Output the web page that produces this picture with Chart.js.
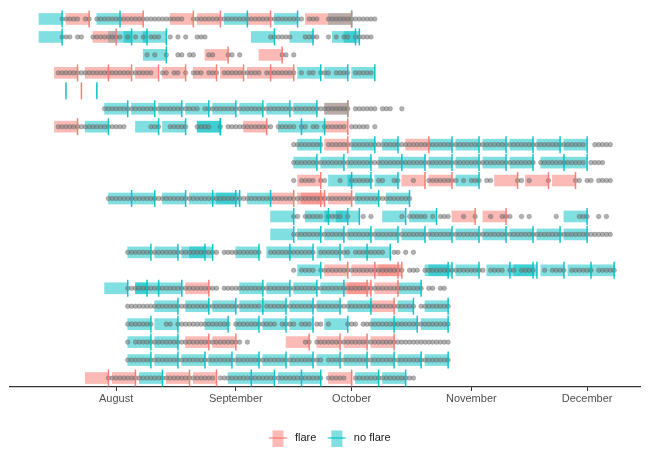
<!DOCTYPE html>
<html><head><meta charset="utf-8">
<script src="https://cdn.jsdelivr.net/npm/chart.js@4.4.1/dist/chart.umd.min.js"></script>
<style>html,body{margin:0;padding:0;background:#fff;}</style>
</head><body>
<canvas id="c" width="650" height="463"></canvas>
<script>
// Rows (one per participant, top to bottom)
const rowIds = ['R1','R2','R3','R4','R5','R6','R7','R8','R9','R10','R11','R12','R13','R14','R15','R16','R17','R18','R19','R20','R21'];
const seriesNames = ['flare', 'no flare'];
// Day numbers counted from July 1 (= 0)
const monthTicks = [31, 62, 92, 123, 153];
const monthLabels = ['August', 'September', 'October', 'November', 'December'];
const dayRange = [3.5, 166.7];

// Report periods [row, first day, last day]; the report date is the last day
const flareSpans = [
  ['R1',18,24],['R1',32,38],['R1',45,51],['R1',52,58],['R1',65,71],['R1',80,92],
  ['R2',25,31],
  ['R3',54,60],['R3',68,74],
  ['R4',15,21],['R4',23,29],['R4',29,35],['R4',36,42],['R4',43,49],['R4',51,57],['R4',58,64],['R4',65,71],['R4',71,77],
  ['R5',22,22],
  ['R6',85,91],
  ['R7',15,21],['R7',64,70],['R7',85,91],
  ['R8',85,91],['R8',106,112],
  ['R10',78,84],['R10',105,111],['R10',112,118],['R10',129,135],['R10',137,143],['R10',144,150],
  ['R11',71,77],['R11',78,84],['R11',79,85],['R11',86,92],
  ['R12',118,124],['R12',126,132],
  ['R15',85,91],['R15',92,98],['R15',98,104],['R15',99,105],
  ['R16',49,55],['R16',90,96],['R16',91,97],['R16',98,104],
  ['R17',97,103],
  ['R19',49,55],['R19',56,62],['R19',75,81],['R19',83,89],['R19',90,96],['R19',97,103],
  ['R21',23,29],['R21',30,36],['R21',44,50],['R21',51,57],['R21',86,92]
];
const noFlareSpans = [
  ['R1',11,17],['R1',26,32],['R1',59,65],['R1',72,78],['R1',86,92],
  ['R2',11,17],['R2',29,35],['R2',33,39],['R2',38,44],['R2',66,72],['R2',76,82],['R2',87,93],['R2',90,94],
  ['R3',38,44],
  ['R4',78,84],['R4',85,91],['R4',92,98],
  ['R5',18,18],['R5',26,26],
  ['R6',28,34],['R6',35,41],['R6',42,48],['R6',49,55],['R6',56,62],['R6',63,69],['R6',70,76],['R6',77,83],['R6',85,91],
  ['R7',23,29],['R7',36,42],['R7',43,49],['R7',52,58],['R7',52,58],['R7',73,79],['R7',79,85],
  ['R8',78,84],['R8',92,98],['R8',100,104],['R8',112,118],['R8',119,125],['R8',126,132],['R8',133,139],['R8',140,146],['R8',147,153],
  ['R9',77,83],['R9',84,90],['R9',91,97],['R9',99,105],['R9',105,111],['R9',112,118],['R9',119,125],['R9',126,132],['R9',133,139],['R9',141,147],['R9',147,153],
  ['R10',86,92],['R10',91,97],['R10',98,104],['R10',119,125],
  ['R11',29,35],['R11',35,41],['R11',43,49],['R11',50,56],['R11',56,62],['R11',57,63],['R11',65,71],['R11',93,99],['R11',101,107],
  ['R12',71,77],['R12',80,86],['R12',85,91],['R12',88,94],['R12',100,106],['R12',107,114],['R12',147,153],
  ['R13',71,77],['R13',78,84],['R13',85,90],['R13',91,97],['R13',98,104],['R13',105,111],['R13',112,118],['R13',119,125],['R13',126,132],['R13',133,139],['R13',140,146],['R13',147,153],
  ['R14',34,40],['R14',41,47],['R14',48,54],['R14',50,56],['R14',62,68],['R14',70,76],['R14',76,82],['R14',83,89],['R14',90,96],['R14',96,102],
  ['R15',78,84],['R15',111,117],['R15',112,118],['R15',119,125],['R15',127,133],['R15',133,139],['R15',134,140],['R15',141,147],['R15',148,154],['R15',154,160],
  ['R16',28,34],['R16',36,39],['R16',36,42],['R16',42,48],['R16',63,69],['R16',70,76],['R16',77,83],['R16',84,90],['R16',104,110],
  ['R17',41,47],['R17',49,55],['R17',56,62],['R17',63,69],['R17',69,75],['R17',76,82],['R17',83,89],['R17',91,97],['R17',104,108],['R17',111,117],
  ['R18',34,40],['R18',41,47],['R18',54,60],['R18',62,68],['R18',69,75],['R18',76,82],['R18',85,91],['R18',97,103],['R18',103,109],['R18',110,117],
  ['R19',34,40],['R19',41,47],
  ['R20',34,40],['R20',41,47],['R20',48,54],['R20',55,61],['R20',62,68],['R20',69,75],['R20',76,82],['R20',83,89],['R20',90,96],['R20',97,103],['R20',104,110],['R20',111,117],
  ['R21',37,43],['R21',60,66],['R21',66,72],['R21',73,79],['R21',79,84],['R21',93,99],['R21',100,106]
];
// Runs of consecutive days with a daily observation [row, first day, last day]
const observedRuns = [
  ['R1',17,21],['R1',23,24],['R1',26,48],['R1',51,79],['R1',81,83],['R1',86,98],
  ['R2',17,19],['R2',21,22],['R2',25,32],['R2',34,34],['R2',36,36],['R2',38,38],['R2',40,42],['R2',45,45],['R2',47,47],['R2',49,49],['R2',52,54],['R2',71,76],['R2',80,83],['R2',86,86],['R2',88,88],['R2',90,91],['R2',93,97],
  ['R3',39,39],['R3',41,41],['R3',44,44],['R3',47,48],['R3',50,51],['R3',55,56],['R3',60,61],['R3',63,63],['R3',74,75],['R3',77,77],
  ['R4',16,40],['R4',43,44],['R4',46,47],['R4',49,49],['R4',51,53],['R4',55,57],['R4',59,68],['R4',70,77],['R4',79,79],['R4',81,82],['R4',84,86],['R4',88,91],['R4',93,97],
  ['R6',28,52],['R6',54,91],['R6',93,98],['R6',100,102],['R6',105,105],
  ['R7',16,33],['R7',40,42],['R7',45,49],['R7',52,55],['R7',58,58],['R7',60,71],['R7',73,77],['R7',79,80],['R7',82,83],['R7',85,90],['R7',92,96],['R7',98,98],
  ['R8',77,84],['R8',86,152],['R8',155,159],
  ['R9',77,139],['R9',141,152],['R9',154,157],
  ['R10',77,77],['R10',79,82],['R10',84,85],['R10',89,89],['R10',92,97],['R10',99,100],['R10',103,104],['R10',108,108],['R10',112,119],['R10',121,121],['R10',123,125],['R10',127,128],['R10',135,136],['R10',138,138],['R10',143,143],['R10',150,151],['R10',153,154],['R10',156,159],
  ['R11',29,107],
  ['R12',77,78],['R12',80,84],['R12',86,89],['R12',91,91],['R12',95,95],['R12',97,97],['R12',105,105],['R12',107,111],['R12',113,113],['R12',115,117],['R12',121,121],['R12',124,124],['R12',128,128],['R12',131,133],['R12',136,136],['R12',138,138],['R12',145,145],['R12',151,153],['R12',156,156],['R12',158,158],
  ['R13',77,159],
  ['R14',34,57],['R14',59,68],['R14',71,82],['R14',84,91],['R14',93,100],['R14',103,104],['R14',106,106],['R14',108,108],
  ['R15',77,77],['R15',79,82],['R15',84,105],['R15',107,109],['R15',111,126],['R15',128,131],['R15',133,134],['R15',136,139],['R15',142,142],['R15',144,147],['R15',149,154],['R15',156,160],
  ['R16',34,57],['R16',59,110],['R16',112,113],['R16',115,116],
  ['R17',34,68],['R17',70,108],['R17',110,117],
  ['R18',34,40],['R18',44,45],['R18',47,60],['R18',62,72],['R18',74,77],['R18',79,81],['R18',83,84],['R18',86,86],['R18',91,93],['R18',95,117],
  ['R19',34,34],['R19',36,63],['R19',65,65],['R19',80,81],['R19',83,117],
  ['R20',34,84],['R20',86,117],
  ['R21',29,56],['R21',58,84],['R21',86,90],['R21',93,108]
];

const FLARE = '248,118,109';
const NOFLARE = '0,191,196';
const rgba = (c, a) => 'rgba(' + c + ',' + a + ')';

const spanData = spans => spans.map(s => ({ y: s[0], x: [s[1], s[2]] }));
const reportData = spans => spans.map(s => ({ y: s[0], x: s[2] }));
const dotData = [];
observedRuns.forEach(r => { for (let d = r[1]; d <= r[2]; d++) dotData.push({ y: r[0], x: d }); });

function makeIcon(c) {
  const cv = document.createElement('canvas');
  cv.width = 32; cv.height = 20;
  const g = cv.getContext('2d');
  g.fillStyle = rgba(c, 0.5);
  g.fillRect(14, 1, 11, 18);
  g.strokeStyle = rgba(c, 0.85);
  g.lineWidth = 1.3;
  g.beginPath(); g.moveTo(10.5, 10); g.lineTo(28.5, 10); g.stroke();
  return cv;
}
const icons = [makeIcon(FLARE), makeIcon(NOFLARE)];

new Chart(document.getElementById('c'), {
  type: 'bar',
  data: {
    datasets: [
      { type: 'bar', label: seriesNames[0], indexAxis: 'y', data: spanData(flareSpans),
        backgroundColor: rgba(FLARE, 0.5), borderWidth: 0, barThickness: 11, grouped: false, order: 3 },
      { type: 'bar', label: seriesNames[1], indexAxis: 'y', data: spanData(noFlareSpans),
        backgroundColor: rgba(NOFLARE, 0.5), borderWidth: 0, barThickness: 11, grouped: false, order: 3 },
      { type: 'scatter', label: 'observed', data: dotData, pointRadius: 2.3,
        backgroundColor: 'rgba(115,115,115,0.55)', borderColor: 'rgba(85,85,85,0.55)', borderWidth: 0.5, order: 2 },
      { type: 'scatter', label: 'flare report', data: reportData(flareSpans), pointStyle: 'line', rotation: 90,
        pointRadius: 8.5, borderColor: rgba(FLARE, 0.9), borderWidth: 1.5, order: 1 },
      { type: 'scatter', label: 'no flare report', data: reportData(noFlareSpans), pointStyle: 'line', rotation: 90,
        pointRadius: 8.5, borderColor: rgba(NOFLARE, 0.9), borderWidth: 1.5, order: 1 }
    ]
  },
  options: {
    responsive: false,
    animation: false,
    layout: { padding: { left: 10, right: 10, top: 8, bottom: 9.5 } },
    scales: {
      x: {
        type: 'linear', min: dayRange[0], max: dayRange[1], offset: false,
        afterBuildTicks: s => { s.ticks = monthTicks.map(v => ({ value: v })); },
        afterFit: s => { s.height = 43.5; },
        ticks: {
          autoSkip: false, maxRotation: 0, padding: 1.5, color: '#4D4D4D',
          font: { family: 'Liberation Sans, Arial, sans-serif', size: 11 },
          callback: v => monthLabels[monthTicks.indexOf(v)]
        },
        grid: { offset: false, drawOnChartArea: false, drawTicks: true, tickLength: 4, color: '#333333', tickWidth: 1 },
        border: { display: true, color: '#333333', width: 1.2 }
      },
      y: {
        type: 'category', labels: rowIds, offset: true, display: false,
        grid: { display: false }
      }
    },
    plugins: {
      tooltip: { enabled: false },
      legend: {
        display: true, position: 'bottom',
        labels: {
          usePointStyle: true, pointStyleWidth: 30, padding: 2,
          color: '#1A1A1A',
          font: { family: 'Liberation Sans, Arial, sans-serif', size: 11 },
          generateLabels: () => seriesNames.map((n, i) => ({
            text: n, pointStyle: icons[i], fillStyle: 'transparent', strokeStyle: 'transparent',
            lineWidth: 0, hidden: false, datasetIndex: i, fontColor: '#1A1A1A'
          }))
        }
      }
    }
  }
});
</script>
</body></html>
